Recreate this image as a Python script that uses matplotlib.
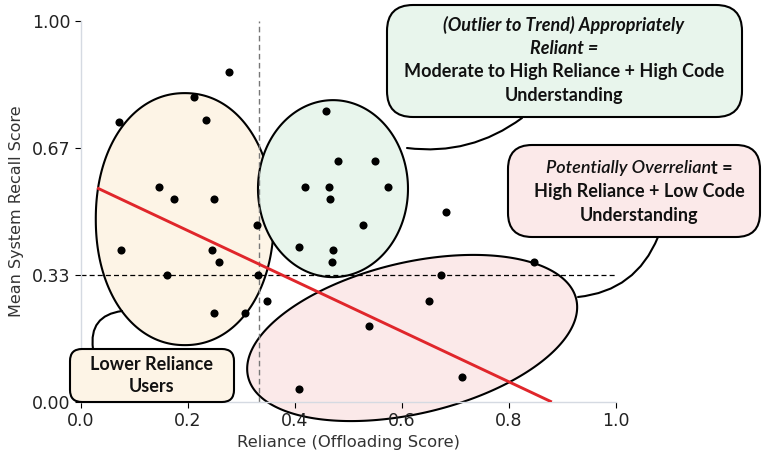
import numpy as np
import matplotlib
matplotlib.use("Agg")
import matplotlib.pyplot as plt
from matplotlib.patches import FancyBboxPatch, FancyArrowPatch, Polygon
from matplotlib.transforms import IdentityTransform, ScaledTranslation

# ---------------- data ----------------
reliance = [0.071, 0.211, 0.234, 0.277, 0.146, 0.174, 0.249, 0.329, 0.075, 0.245,
            0.258, 0.161, 0.249, 0.307, 0.331, 0.348, 0.458, 0.480, 0.550, 0.419,
            0.464, 0.574, 0.465, 0.527, 0.407, 0.471, 0.469, 0.682, 0.673, 0.650,
            0.847, 0.538, 0.712, 0.407]
recall = [0.735, 0.801, 0.740, 0.866, 0.564, 0.533, 0.533, 0.465, 0.399, 0.399,
          0.367, 0.333, 0.234, 0.234, 0.333, 0.265, 0.764, 0.633, 0.633, 0.564,
          0.564, 0.564, 0.533, 0.465, 0.407, 0.399, 0.367, 0.499, 0.333, 0.265,
          0.367, 0.199, 0.066, 0.034]
trend_x = [0.03, 0.88]
trend_y = [0.562, 0.0]
threshold_x = 1 / 3
threshold_y = 1 / 3
x_ticks = [0.0, 0.2, 0.4, 0.6, 0.8, 1.0]
x_tick_labels = ["0.0", "0.2", "0.4", "0.6", "0.8", "1.0"]
y_ticks = [0.0, 1 / 3, 2 / 3, 1.0]
y_tick_labels = ["0.00", "0.33", "0.67", "1.00"]
x_label = "Reliance (Offloading Score)"
y_label = "Mean System Recall Score"

# ---------------- figure ----------------
W, H = 762, 454
fig = plt.figure(figsize=(W / 100, H / 100), dpi=100)
ax = fig.add_axes([81 / W, (H - 402) / H, 535 / W, 381 / H])
ax.set_xlim(0, 1)
ax.set_ylim(0, 1)

C_ORANGE = "#fdf4e6"
C_GREEN = "#e8f5ec"
C_PINK = "#fbe9e9"


def blob(cx, cy, rx, ry, ang, fc, z=1, n=2.0):
    """Rounded blob (super-ellipse) sized in pixels, centred at a data point."""
    tr = fig.dpi_scale_trans + ScaledTranslation(cx, cy, ax.transData)
    t = np.linspace(0, 2 * np.pi, 400)
    c, s = np.cos(t), np.sin(t)
    u = rx * np.sign(c) * np.abs(c) ** (2 / n)
    v = ry * np.sign(s) * np.abs(s) ** (2 / n)
    a = np.deg2rad(ang)
    px = u * np.cos(a) - v * np.sin(a)
    py = u * np.sin(a) + v * np.cos(a)
    pts = np.column_stack([px, py]) / 100.0
    p = Polygon(pts, closed=True, transform=tr, fc=fc, ec="black", lw=1.5,
                clip_on=False, zorder=z)
    ax.add_patch(p)


blob(0.194, 0.480, 89, 126, 0, C_ORANGE, 1, n=2.1)
blob(0.471, 0.560, 75, 88.5, 0, C_GREEN, 1.1)
blob(0.619, 0.168, 168.6, 75.5, 13.3, C_PINK, 1.2)

ax.axvline(threshold_x, color="#777777", ls=(0, (4, 2.5)), lw=1.0, zorder=2)
ax.axhline(threshold_y, color="black", ls=(0, (4, 2.5)), lw=0.9, zorder=2)
ax.plot(trend_x, trend_y, color="#e0262b", lw=2.1, zorder=3, solid_capstyle="butt")
ax.scatter(reliance, recall, s=34, color="black", zorder=4, linewidths=0)

ax.set_xticks(x_ticks)
ax.set_xticklabels(x_tick_labels)
ax.set_yticks(y_ticks)
ax.set_yticklabels(y_tick_labels)
ax.tick_params(labelsize=12.5, length=4, width=0.8, color="black", labelcolor="#222222")
ax.set_xlabel(x_label, fontsize=11.8, color="#333333", labelpad=3)
ax.set_ylabel(y_label, fontsize=11.5, color="#333333", labelpad=6)
for s in ["top", "right"]:
    ax.spines[s].set_visible(False)
for s in ["left", "bottom"]:
    ax.spines[s].set_color("#d5dae2")
    ax.spines[s].set_linewidth(1.0)

# ---------------- callouts (pixel coords, origin top-left) ----------------
ID = IdentityTransform()


def box(x0, y0, x1, y1, fc, r):
    p = FancyBboxPatch((x0, H - y1), x1 - x0, y1 - y0,
                       boxstyle=f"round,pad=0,rounding_size={r}",
                       transform=ID, fc=fc, ec="black", lw=1.5, zorder=10, clip_on=False)
    fig.add_artist(p)


def link(a, b, rad):
    p = FancyArrowPatch((a[0], H - a[1]), (b[0], H - b[1]), arrowstyle="-",
                        connectionstyle=f"arc3,rad={rad}", transform=ID,
                        color="black", lw=1.5, shrinkA=0, shrinkB=0, zorder=9)
    fig.add_artist(p)


FONT = "Lato"


def line(x, y, s, fs, **kw):
    return fig.text(x / W, 1 - y / H, s, ha="center", va="center", fontsize=fs,
                    family=FONT, color="#111111", zorder=11, **kw)


link((407, 148), (522, 118), 0.2)
link((658, 237), (578, 297), -0.3)
link((122, 311), (93, 349), 0.5)

box(387, 5, 742, 117, C_GREEN, 26)
box(508, 145, 760, 237, C_PINK, 24)
box(70, 349, 234, 402, C_ORANGE, 12)

FS = 13
line(564, 25, "(Outlier to Trend) Appropriately", FS, weight="bold", style="italic")
line(564, 48, "Reliant =", FS, weight="bold", style="italic")
line(564, 72, "Moderate to High Reliance + High Code", FS, weight="bold")
line(564, 95, "Understanding", FS, weight="bold")

r = fig.canvas.get_renderer()
t1 = line(0, 168, "Potentially Overrelian", FS, weight="semibold", style="italic")
t2 = line(0, 168, "t =", FS, weight="bold")
w1 = t1.get_window_extent(r).width
w2 = t2.get_window_extent(r).width
cx = 639
start = cx - (w1 + w2) / 2
t1.set_ha("left"); t1.set_x(start / W)
t2.set_ha("left"); t2.set_x((start + w1) / W)
line(639, 192, "High Reliance + Low Code", FS, weight="bold")
line(639, 215, "Understanding", FS, weight="bold")

line(152, 364, "Lower Reliance", FS, weight="bold")
line(152, 387, "Users", FS, weight="bold")

fig.savefig("out.png", dpi=100)
